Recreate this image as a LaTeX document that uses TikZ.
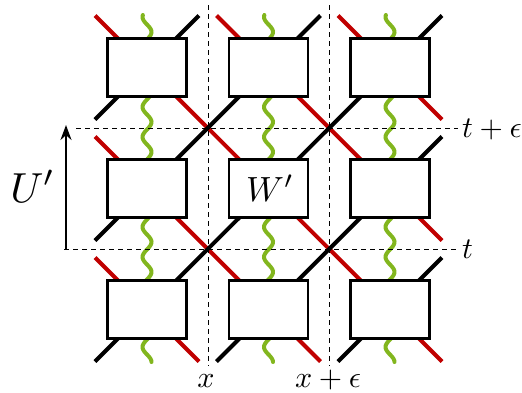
\documentclass[tikz,border=0pt]{standalone}
\usetikzlibrary{arrows.meta,calc}
\definecolor{wred}{RGB}{192,0,0}
\definecolor{wgreen}{RGB}{130,182,30}
\begin{document}
\begin{tikzpicture}[x=1pt,y=-1pt,
  box/.style={draw=black, fill=white, line width=2.9pt, minimum width=79pt, minimum height=58.5pt, inner sep=0pt},
  redleg/.style={draw=wred, line width=4pt},
  blackleg/.style={draw=black, line width=4pt},
  wave/.style={draw=wgreen, line width=4pt, line cap=round},
  guide/.style={draw=black, line width=1pt, dash pattern=on 5pt off 4pt},
  lab/.style={inner sep=0pt},
  axisarrow/.style={draw=black, line width=2.2pt, -{Stealth[length=15pt, width=11pt]}}]
\useasboundingbox (0,0) rectangle (522,392);
% box centres
\foreach \r/\y in {1/67.5,2/188.5,3/309.5}{
  \foreach \c/\x in {1/147,2/268.5,3/390}{
    \coordinate (c\r\c) at (\x,\y);
  }
}
% red diagonals
\draw[redleg] ($(c11)+(-52,-52)$) -- ($(c33)+(52,52)$);
\draw[redleg] ($(c12)+(-52,-52)$) -- ($(c23)+(52,52)$);
\draw[redleg] ($(c21)+(-52,-52)$) -- ($(c32)+(52,52)$);
\draw[redleg] ($(c13)+(-52,-52)$) -- ($(c13)+(52,52)$);
\draw[redleg] ($(c31)+(-52,-52)$) -- ($(c31)+(52,52)$);
% black diagonals
\draw[blackleg] ($(c31)+(-52,52)$) -- ($(c13)+(52,-52)$);
\draw[blackleg] ($(c32)+(-52,52)$) -- ($(c23)+(52,-52)$);
\draw[blackleg] ($(c21)+(-52,52)$) -- ($(c12)+(52,-52)$);
\draw[blackleg] ($(c11)+(-52,52)$) -- ($(c11)+(52,-52)$);
\draw[blackleg] ($(c33)+(-52,52)$) -- ($(c33)+(52,-52)$);
% green wavy lines
\foreach \x in {147,268.5,390}{
  \draw[wave] plot[domain=15:40, samples=30, variable=\t] ({\x-4.5*cos(12*(\t-17))},{\t});
  \draw[wave] plot[domain=95:161, samples=70, variable=\t] ({\x-4.5*cos(12*(\t-17))},{\t});
  \draw[wave] plot[domain=216:282, samples=70, variable=\t] ({\x-4.5*cos(12*(\t-17))},{\t});
  \draw[wave] plot[domain=337:362, samples=30, variable=\t] ({\x-4.5*cos(12*(\t-17))},{\t});
}
% guide lines
\coordinate (v1t) at (208,5);   \coordinate (v1b) at (208,366);
\coordinate (v2t) at (329,5);   \coordinate (v2b) at (329,366);
\coordinate (h1l) at (76,128);  \coordinate (h1r) at (458,128);
\coordinate (h2l) at (64,249);  \coordinate (h2r) at (458,249);
\draw[guide] (v1t) -- (v1b);
\draw[guide] (v2t) -- (v2b);
\draw[guide] (h1l) -- (h1r);
\draw[guide] (h2l) -- (h2r);
% boxes
\foreach \r in {1,2,3}{
  \foreach \c in {1,2,3}{
    \node[box] (b\r\c) at (c\r\c) {};
  }
}
\node[lab, anchor=base] (wlab) at (270,201) {\scalebox{3.5}{$W'$}};
% arrow and labels
\coordinate (arrb) at (66,249);
\coordinate (arrt) at (66,125);
\draw[axisarrow] (arrb) -- (arrt);
\node[lab, anchor=base] (ulab) at (33,202) {\scalebox{4.2}{$U'$}};
\node[lab, anchor=base west] (ltpe) at (462,137) {\scalebox{3}{$t+\epsilon$}};
\node[lab, anchor=base west] (lt) at (462,258) {\scalebox{3}{$t$}};
\node[lab, anchor=base] (lx) at (206,387) {\scalebox{3}{$x$}};
\node[lab, anchor=base] (lxe) at (328,387) {\scalebox{3}{$x+\epsilon$}};
\end{tikzpicture}
\end{document}
